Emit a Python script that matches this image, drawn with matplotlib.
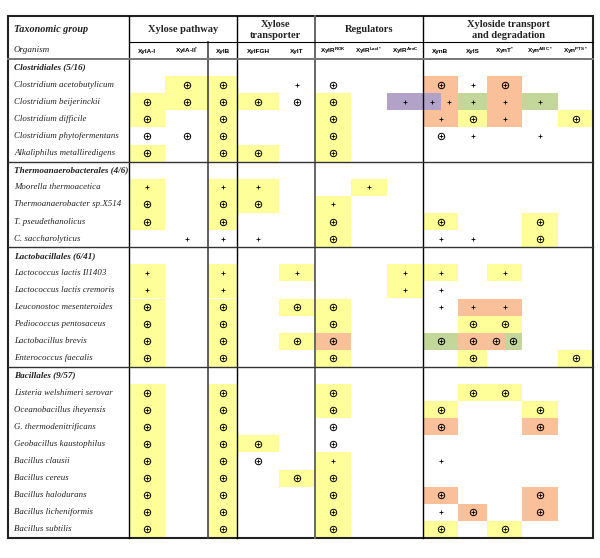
import matplotlib
matplotlib.use("Agg")
import matplotlib.pyplot as plt
from matplotlib.patches import Rectangle

plt.rcParams["mathtext.fontset"] = "custom"
plt.rcParams["mathtext.rm"] = "Liberation Sans:bold"
plt.rcParams["mathtext.it"] = "Liberation Sans:bold"
plt.rcParams["mathtext.bf"] = "Liberation Sans:bold"

# ── data ───────────────────────────────────────────────────────────
COLUMNS = ["XylA-I", "XylA-II$^{*}$", "XylB", "XylFGH", "XylT",
           "XylR$^{ROK}$", "XylR$^{LacI*}$", "XylR$^{AraC}$",
           "XynB", "XylS", "XynT$^{*}$", "Xyn$^{ABC*}$", "Xyn$^{PTS*}$"]
COLUMN_GROUPS = ["Xylose pathway", "Xylose\ntransporter", "Regulators",
                 "Xyloside transport\nand degradation"]
GROUP_SPANS = [(0, 3), (3, 5), (5, 8), (8, 13)]

TAXA = ["Clostridiales (5/16)", "Thermoanaerobacterales (4/6)",
        "Lactobacillales (6/41)", "Bacillales (9/57)"]

ORGANISMS = [
    ["Clostridium acetobutylicum", "Clostridium beijerinckii",
     "Clostridium difficile", "Clostridium phytofermentans",
     "Alkaliphilus metalliredigens"],
    ["Moorella thermoacetica", "Thermoanaerobacter sp.X514",
     "T. pseudethanolicus", "C. saccharolyticus"],
    ["Lactococcus lactis Il1403", "Lactococcus lactis cremoris",
     "Leuconostoc mesenteroides", "Pediococcus pentosaceus",
     "Lactobacillus brevis", "Enterococcus faecalis"],
    ["Listeria welshimeri serovar", "Oceanobacillus iheyensis",
     "G. thermodenitrificans", "Geobacillus kaustophilus",
     "Bacillus clausii", "Bacillus cereus", "Bacillus halodurans",
     "Bacillus licheniformis", "Bacillus subtilis"],
]

# O = circled plus, + = plain plus, . = empty; trailing letter = cell colour,
# "|" splits a cell into halves
CELLS = [
    [". Oy Oy . + O . . Oo + Oo . .",
     "Oy Oy Oy Oy O Oy . +p +p|+o +g +o +g .",
     "Oy . Oy . . Oy . . +o Oy +o . Oy",
     "O O Oy . . Oy . . O + . + .",
     "Oy . Oy Oy . Oy . . . . . . ."],
    ["+y . +y +y . . +y . . . . . .",
     "Oy . Oy Oy . +y . . . . . . .",
     "Oy . Oy . . Oy . . Oy . . Oy .",
     ". + + + . Oy . . + + . Oy ."],
    ["+y . +y . +y . . +y +y . +y . .",
     "+y . +y . . . . +y + . . . .",
     "Oy . Oy . Oy Oy . . + +o +o . .",
     "Oy . Oy . . Oy . . . Oy Oy . .",
     "Oy . Oy . Oy Oo . . Og Oo Oo|Og . .",
     "Oy . Oy . . Oy . . . Oy . . Oy"],
    ["Oy . Oy . . Oy . . . Oy Oy . .",
     "Oy . Oy . . Oy . . Oy . . Oy .",
     "Oy . Oy . . O . . Oo . . Oo .",
     "Oy . Oy Oy . O . . . . . . .",
     "Oy . Oy O . +y . . + . . . .",
     "Oy . Oy . Oy Oy . . . . . . .",
     "Oy . Oy . . Oy . . Oo . . Oo .",
     "Oy . Oy . . Oy . . + Oo . Oo .",
     "Oy . Oy . . Oy . . Oy . Oy . ."],
]

FILL = {"y": "#FFFF99", "o": "#FAC09A", "g": "#C4D79B", "p": "#B3A2C7"}

# ── layout (pixels) ────────────────────────────────────────────────
LEFT, RIGHT, TOP, BOTTOM = 8, 593, 16, 538
HEAD1, HEAD2 = 42, 59
EDGES = [129, 165, 208, 237, 279, 315, 351, 387, 423, 458, 487, 522, 558, 593]
n_rows = sum(1 + len(o) for o in ORGANISMS)
PITCH = (BOTTOM - HEAD2) / n_rows

SERIF = "Liberation Serif"
SANS = "Liberation Sans"
TXT = "#222222"

fig = plt.figure(figsize=(6, 5.58), dpi=100)
ax = fig.add_axes([0, 0, 1, 1])
ax.set_xlim(0, 600)
ax.set_ylim(558, 0)
ax.axis("off")


def draw_symbol(x, y, sym):
    if sym == "O":
        ax.plot(x, y, marker="o", ms=4.6, mfc="none", mec="black", mew=0.7, zorder=4)
        ax.plot(x, y, marker="+", ms=3.0, mec="black", mew=0.6, zorder=4)
    elif sym == "+":
        ax.plot(x, y, marker="+", ms=3.4, mec="black", mew=0.6, zorder=4)


# ── header ─────────────────────────────────────────────────────────
ax.text(14, 29, "Taxonomic group", family=SERIF, style="italic",
        weight="bold", fontsize=7.3, va="center", color=TXT)
ax.text(14, 50, "Organism", family=SERIF, style="italic", fontsize=6.6,
        va="center", color=TXT)
for name, (a, b) in zip(COLUMN_GROUPS, GROUP_SPANS):
    ax.text((EDGES[a] + EDGES[b]) / 2, (TOP + HEAD1) / 2 + 1, name, family=SERIF,
            weight="bold", fontsize=7.5, ha="center", va="center",
            linespacing=1.15, color=TXT)
for j, col in enumerate(COLUMNS):
    ax.text((EDGES[j] + EDGES[j + 1]) / 2, (HEAD1 + HEAD2) / 2 + 0.5, col,
            family=SANS, weight="bold", fontsize=4.6, ha="center", va="center")

# ── body ───────────────────────────────────────────────────────────
row = 0
section_lines = []
for taxon, orgs, cells in zip(TAXA, ORGANISMS, CELLS):
    y0 = HEAD2 + row * PITCH
    if row > 0:
        section_lines.append(y0)
    ax.text(14, y0 + PITCH / 2, taxon, family=SERIF, style="italic",
            weight="bold", fontsize=6.6, va="center", color=TXT)
    row += 1
    for org, line in zip(orgs, cells):
        y0 = HEAD2 + row * PITCH
        yc = y0 + PITCH / 2
        ax.text(14, yc, org, family=SERIF, style="italic", fontsize=6.4,
                va="center", color=TXT)
        for j, tok in enumerate(line.split()):
            if tok == ".":
                continue
            halves = tok.split("|")
            w = (EDGES[j + 1] - EDGES[j]) / len(halves)
            for k, h in enumerate(halves):
                x0 = EDGES[j] + k * w
                if len(h) > 1:
                    ax.add_patch(Rectangle((x0, y0), w, PITCH, facecolor=FILL[h[1]],
                                           edgecolor="none", zorder=1))
                draw_symbol(x0 + w / 2, yc, h[0])
        row += 1

# ── grid lines ─────────────────────────────────────────────────────
ax.add_patch(Rectangle((LEFT, TOP), RIGHT - LEFT, BOTTOM - TOP, facecolor="none",
                       edgecolor="#222222", lw=1.5, zorder=5))
for x in (EDGES[0], EDGES[3], EDGES[8]):
    ax.plot([x, x], [TOP, BOTTOM], color="black", lw=1.0, zorder=5)
ax.plot([EDGES[5], EDGES[5]], [TOP, BOTTOM], color="#666666", lw=1.4, zorder=5)
ax.plot([EDGES[2], EDGES[2]], [HEAD1, BOTTOM], color="#444444", lw=1.2, zorder=5)
ax.plot([EDGES[0], RIGHT], [HEAD1, HEAD1], color="black", lw=0.8, zorder=5)
ax.plot([LEFT, RIGHT], [HEAD2, HEAD2], color="#777777", lw=1.4, zorder=5)
for y in section_lines:
    ax.plot([LEFT, RIGHT], [y, y], color="#333333", lw=1.0, zorder=5)

fig.savefig("out.png", dpi=100)
